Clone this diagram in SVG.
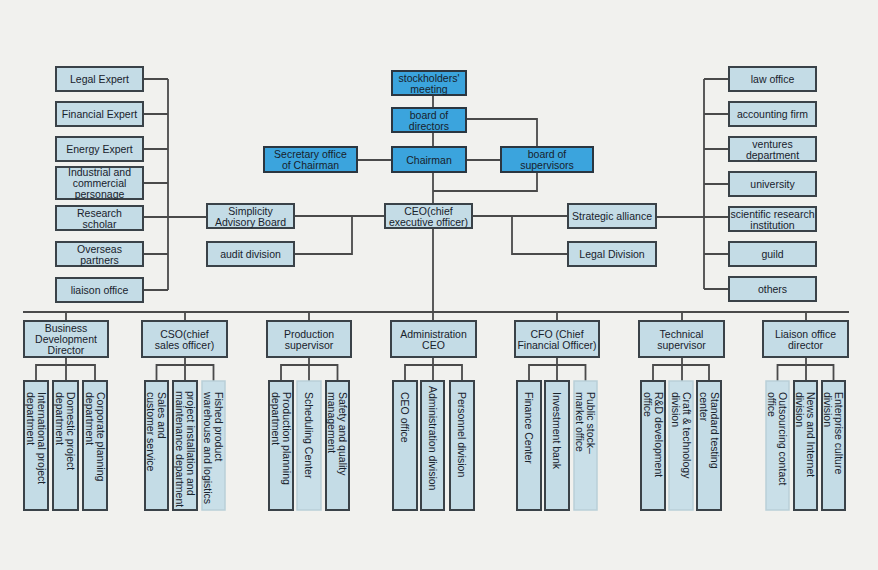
<svg xmlns="http://www.w3.org/2000/svg" width="878" height="570" viewBox="0 0 878 570">
<style>
.blue{fill:#3ba4dd;stroke:#2b3640;stroke-width:2}
.lt{fill:#c4dce6;stroke:#3a4248;stroke-width:2}
.pale{fill:#c9dfe8;stroke:#b9cfd8;stroke-width:1.5}
text{font-family:"Liberation Sans",Arial,sans-serif;font-size:10.5px;fill:#18222c;text-anchor:middle;dominant-baseline:central}
text.v{text-anchor:start}
.ln{stroke:#4a4a4a;stroke-width:1.8;fill:none}
</style>
<rect width="878" height="570" fill="#f1f1ee"/>
<g id="connectors" class="ln">
<path d="M143 79H168M143 114H168M143 149H168M143 183H168M143 217H207M143 254H168M143 290H168M168 79V290"/>
<path d="M704 79V289M729 79H704M729 114H704M729 149H704M729 184H704M656 217H729M729 254H704M729 289H704"/>
<path d="M433 95V108M433 132V147M433 172V204M466 119H537V147M537 172V191H433M466 160H501M357 160H392"/>
<path d="M294 216H385M352 216V254H294M472 216H568M512 216V254H568"/>
<path d="M433 228V312M23 312H849M66 312V321M185 312V321M309 312V321M433 312V321M557 312V321M682 312V321M806 312V321"/>
<path d="M66 357V381M36 381V365H95V381"/>
<path d="M185 357V381M156.5 381V365H213.5V381"/>
<path d="M309 357V381M281 381V365H337.5V381"/>
<path d="M433 357V381M405 381V365H462V381"/>
<path d="M557 357V381M529 381V365H585.5V381"/>
<path d="M682 357V381M653 381V365H709V381"/>
<path d="M806 357V381M777.5 381V365H833.5V381"/>
</g>
<g id="legal-expert"><rect class="lt" x="56" y="67" width="87" height="24"/><text x="99.5" y="79">Legal Expert</text></g>
<g id="financial-expert"><rect class="lt" x="56" y="102" width="87" height="24"/><text x="99.5" y="114">Financial Expert</text></g>
<g id="energy-expert"><rect class="lt" x="56" y="137" width="87" height="24"/><text x="99.5" y="149">Energy Expert</text></g>
<g id="industrial"><rect class="lt" x="56" y="167" width="87" height="32"/><text x="99.5" y="172">Industrial and</text><text x="99.5" y="183">commercial</text><text x="99.5" y="194">personage</text></g>
<g id="research-scholar"><rect class="lt" x="56" y="206" width="87" height="24"/><text x="99.5" y="212.5">Research</text><text x="99.5" y="223.5">scholar</text></g>
<g id="overseas"><rect class="lt" x="56" y="242" width="87" height="24"/><text x="99.5" y="248.5">Overseas</text><text x="99.5" y="259.5">partners</text></g>
<g id="liaison-office"><rect class="lt" x="56" y="278" width="87" height="24"/><text x="99.5" y="290">liaison office</text></g>
<g id="law-office"><rect class="lt" x="729" y="67" width="87" height="24"/><text x="772.5" y="79">law office</text></g>
<g id="accounting"><rect class="lt" x="729" y="102" width="87" height="24"/><text x="772.5" y="114">accounting firm</text></g>
<g id="ventures"><rect class="lt" x="729" y="137" width="87" height="24"/><text x="772.5" y="143.5">ventures</text><text x="772.5" y="154.5">department</text></g>
<g id="university"><rect class="lt" x="729" y="172" width="87" height="24"/><text x="772.5" y="184">university</text></g>
<g id="scientific"><rect class="lt" x="729" y="207" width="87" height="24"/><text x="772.5" y="213.5">scientific research</text><text x="772.5" y="224.5">institution</text></g>
<g id="guild"><rect class="lt" x="729" y="242" width="87" height="24"/><text x="772.5" y="254">guild</text></g>
<g id="others"><rect class="lt" x="729" y="277" width="87" height="24"/><text x="772.5" y="289">others</text></g>
<g id="stockholders"><rect class="blue" x="392" y="71" width="74" height="24"/><text x="429" y="77.5">stockholders'</text><text x="429" y="88.5">meeting</text></g>
<g id="board-directors"><rect class="blue" x="392" y="108" width="74" height="24"/><text x="429" y="114.5">board of</text><text x="429" y="125.5">directors</text></g>
<g id="chairman"><rect class="blue" x="392" y="147" width="74" height="25"/><text x="429" y="159.5">Chairman</text></g>
<g id="secretary"><rect class="blue" x="264" y="147" width="93" height="25"/><text x="310.5" y="154">Secretary office</text><text x="310.5" y="165">of Chairman</text></g>
<g id="board-supervisors"><rect class="blue" x="501" y="147" width="92" height="25"/><text x="547" y="154">board of</text><text x="547" y="165">supervisors</text></g>
<g id="ceo"><rect class="lt" x="385" y="204" width="87" height="24"/><text x="428.5" y="210.5">CEO(chief</text><text x="428.5" y="221.5">executive officer)</text></g>
<g id="simplicity"><rect class="lt" x="207" y="204" width="87" height="24"/><text x="250.5" y="210.5">Simplicity</text><text x="250.5" y="221.5">Advisory Board</text></g>
<g id="audit"><rect class="lt" x="207" y="242" width="87" height="24"/><text x="250.5" y="254">audit division</text></g>
<g id="strategic"><rect class="lt" x="568" y="204" width="88" height="24"/><text x="612" y="216">Strategic alliance</text></g>
<g id="legal-division"><rect class="lt" x="568" y="242" width="88" height="24"/><text x="612" y="254">Legal Division</text></g>
<g id="bd-director"><rect class="lt" x="24" y="321" width="84" height="36"/><text x="66" y="328">Business</text><text x="66" y="339">Development</text><text x="66" y="350">Director</text></g>
<g id="cso"><rect class="lt" x="142" y="321" width="85" height="36"/><text x="184.5" y="333.5">CSO(chief</text><text x="184.5" y="344.5">sales officer)</text></g>
<g id="production"><rect class="lt" x="267" y="321" width="84" height="36"/><text x="309" y="333.5">Production</text><text x="309" y="344.5">supervisor</text></g>
<g id="admin-ceo"><rect class="lt" x="391" y="321" width="85" height="36"/><text x="433.5" y="333.5">Administration</text><text x="433.5" y="344.5">CEO</text></g>
<g id="cfo"><rect class="lt" x="515" y="321" width="84" height="36"/><text x="557" y="333.5">CFO (Chief</text><text x="557" y="344.5">Financial Officer)</text></g>
<g id="technical"><rect class="lt" x="639" y="321" width="85" height="36"/><text x="681.5" y="333.5">Technical</text><text x="681.5" y="344.5">supervisor</text></g>
<g id="liaison-director"><rect class="lt" x="763" y="321" width="85" height="36"/><text x="805.5" y="333.5">Liaison office</text><text x="805.5" y="344.5">director</text></g>
<g id="intl-project"><rect class="lt" x="24" y="381" width="24" height="129"/><text class="v" transform="translate(36 392) rotate(90)"><tspan x="0" y="-5.5">International project</tspan><tspan x="0" y="5.5">department</tspan></text></g>
<g id="domestic-project"><rect class="lt" x="53" y="381" width="25" height="129"/><text class="v" transform="translate(65.5 392) rotate(90)"><tspan x="0" y="-5.5">Domestic project</tspan><tspan x="0" y="5.5">department</tspan></text></g>
<g id="corporate-planning"><rect class="lt" x="83" y="381" width="24" height="129"/><text class="v" transform="translate(95 392) rotate(90)"><tspan x="0" y="-5.5">Corporate planning</tspan><tspan x="0" y="5.5">department</tspan></text></g>
<g id="sales-service"><rect class="lt" x="145" y="381" width="23" height="129"/><text class="v" transform="translate(156.5 392) rotate(90)"><tspan x="0" y="-5.5">Sales and</tspan><tspan x="0" y="5.5">customer service</tspan></text></g>
<g id="installation"><rect class="lt" x="173" y="381" width="24" height="129"/><text class="v" transform="translate(185 391) rotate(90)"><tspan x="0" y="-5.5">project installation and</tspan><tspan x="0" y="5.5">maintenance department</tspan></text></g>
<g id="warehouse"><rect class="pale" x="202" y="381" width="23" height="129"/><text class="v" transform="translate(213.5 392) rotate(90)"><tspan x="0" y="-5.5">Fished product</tspan><tspan x="0" y="5.5">warehouse and logistics</tspan></text></g>
<g id="production-planning"><rect class="lt" x="269" y="381" width="24" height="129"/><text class="v" transform="translate(281 392) rotate(90)"><tspan x="0" y="-5.5">Production planning</tspan><tspan x="0" y="5.5">department</tspan></text></g>
<g id="scheduling"><rect class="pale" x="297" y="381" width="24" height="129"/><text class="v" transform="translate(309 392) rotate(90)">Scheduling Center</text></g>
<g id="safety"><rect class="lt" x="326" y="381" width="23" height="129"/><text class="v" transform="translate(337.5 392) rotate(90)"><tspan x="0" y="-5.5">Safety and quality</tspan><tspan x="0" y="5.5">management</tspan></text></g>
<g id="ceo-office"><rect class="lt" x="393" y="381" width="24" height="129"/><text class="v" transform="translate(405 392) rotate(90)">CEO office</text></g>
<g id="admin-division"><rect class="lt" x="421" y="381" width="23" height="129"/><text class="v" transform="translate(432.5 386) rotate(90)">Administration division</text></g>
<g id="personnel"><rect class="lt" x="450" y="381" width="24" height="129"/><text class="v" transform="translate(462 392) rotate(90)">Personnel division</text></g>
<g id="finance-center"><rect class="lt" x="517" y="381" width="24" height="129"/><text class="v" transform="translate(529 392) rotate(90)">Finance Center</text></g>
<g id="investment-bank"><rect class="lt" x="545" y="381" width="24" height="129"/><text class="v" transform="translate(557 392) rotate(90)">Investment bank</text></g>
<g id="stock-market"><rect class="pale" x="574" y="381" width="23" height="129"/><text class="v" transform="translate(585.5 392) rotate(90)"><tspan x="0" y="-5.5">Public stock–</tspan><tspan x="0" y="5.5">market office</tspan></text></g>
<g id="rd-office"><rect class="lt" x="641" y="381" width="24" height="129"/><text class="v" transform="translate(653 392) rotate(90)"><tspan x="0" y="-5.5">R&amp;D development</tspan><tspan x="0" y="5.5">office</tspan></text></g>
<g id="craft"><rect class="pale" x="669" y="381" width="24" height="129"/><text class="v" transform="translate(681 392) rotate(90)"><tspan x="0" y="-5.5">Craft &amp; technology</tspan><tspan x="0" y="5.5">division</tspan></text></g>
<g id="standard-testing"><rect class="lt" x="697" y="381" width="24" height="129"/><text class="v" transform="translate(709 392) rotate(90)"><tspan x="0" y="-5.5">Standard testing</tspan><tspan x="0" y="5.5">center</tspan></text></g>
<g id="outsourcing"><rect class="pale" x="766" y="381" width="23" height="129"/><text class="v" transform="translate(777.5 392) rotate(90)"><tspan x="0" y="-5.5">Outsourcing contact</tspan><tspan x="0" y="5.5">office</tspan></text></g>
<g id="news-internet"><rect class="lt" x="794" y="381" width="23" height="129"/><text class="v" transform="translate(805.5 392) rotate(90)"><tspan x="0" y="-5.5">News and Internet</tspan><tspan x="0" y="5.5">division</tspan></text></g>
<g id="enterprise-culture"><rect class="lt" x="822" y="381" width="23" height="129"/><text class="v" transform="translate(833.5 392) rotate(90)"><tspan x="0" y="-5.5">Enterprise culture</tspan><tspan x="0" y="5.5">division</tspan></text></g>
</svg>
